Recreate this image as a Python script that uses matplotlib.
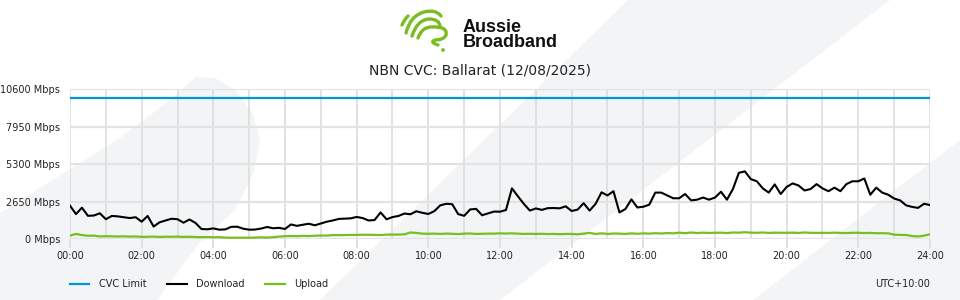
import numpy as np
import matplotlib.pyplot as plt
from matplotlib.patches import Polygon, Circle, PathPatch
from matplotlib.path import Path

# 10 minute samples over the day, in hours
times = np.arange(145) / 6.0
cvc_limit = 10000

download = [
    2375, 1780, 2233, 1660, 1680, 1837,   # 00
    1420, 1650, 1620, 1560, 1500, 1560,   # 01
    1244, 1650, 900, 1200, 1330, 1450,    # 02
    1420, 1173, 1400, 1160, 730, 707,     # 03
    770, 680, 700, 880, 890, 750,         # 04
    680, 690, 760, 870, 780, 810,         # 05
    728, 1050, 950, 1030, 1100, 990,      # 06
    1120, 1244, 1330, 1440, 1460, 1480,   # 07
    1580, 1500, 1330, 1360, 1900, 1413,   # 08
    1570, 1650, 1820, 1770, 1980, 1870,   # 09
    1790, 1990, 2400, 2510, 2480, 1780,   # 10
    1660, 2110, 2150, 1700, 1830, 1960,   # 11
    1950, 2070, 3600, 3040, 2500, 2030,   # 12
    2180, 2080, 2200, 2210, 2190, 2330,   # 13
    2000, 2100, 2550, 2030, 2500, 3320,   # 14
    3100, 3400, 1900, 2140, 2820, 2250,   # 15
    2300, 2450, 3300, 3300, 3100, 2900,   # 16
    2900, 3200, 2750, 2800, 2950, 2800,   # 17
    2950, 3360, 2800, 3550, 4700, 4800,   # 18
    4250, 4100, 3600, 3300, 3880, 3200,   # 19
    3700, 3950, 3800, 3450, 3550, 3900,   # 20
    3600, 3400, 3650, 3400, 3900, 4100,   # 21
    4100, 4300, 3150, 3650, 3300, 3150,   # 22
    2880, 2750, 2400, 2290, 2220, 2510,   # 23
    2420,
]

upload = [
    260, 380, 300, 250, 260, 200,   # 00
    220, 210, 200, 210, 190, 200,   # 01
    170, 180, 190, 170, 180, 180,   # 02
    190, 170, 180, 160, 150, 160,   # 03
    140, 150, 120, 110, 110, 110,   # 04
    110, 120, 140, 120, 150, 190,   # 05
    220, 230, 220, 240, 230, 250,   # 06
    270, 260, 300, 290, 300, 310,   # 07
    310, 320, 320, 310, 300, 330,   # 08
    330, 340, 350, 480, 450, 400,   # 09
    390, 400, 380, 400, 390, 370,   # 10
    400, 410, 380, 390, 400, 400,   # 11
    420, 410, 420, 400, 380, 390,   # 12
    380, 390, 370, 380, 360, 380,   # 13
    380, 350, 400, 450, 380, 420,   # 14
    380, 410, 400, 380, 420, 390,   # 15
    420, 400, 430, 410, 440, 420,   # 16
    470, 430, 480, 440, 470, 450,   # 17
    460, 470, 440, 480, 470, 500,   # 18
    470, 460, 480, 450, 470, 460,   # 19
    460, 470, 450, 480, 460, 450,   # 20
    460, 450, 470, 450, 440, 460,   # 21
    460, 440, 450, 430, 430, 420,   # 22
    330, 310, 300, 230, 200, 260,   # 23
    350,
]

y_ticks = [0, 2650, 5300, 7950, 10600]
y_labels = ["%d Mbps" % v for v in y_ticks]
x_ticks = np.arange(0, 25, 2)
x_labels = ["%02d:00" % h for h in x_ticks]

blue = "#0096d6"
green = "#78be20"
text_col = "#222222"
shade = "#f3f4f6"

fig = plt.figure(figsize=(9.6, 3), dpi=100)
fig.patch.set_facecolor("white")

# background decoration + logo, drawn in pixel coordinates
bg = fig.add_axes([0, 0, 1, 1], zorder=0)
bg.set_xlim(0, 960)
bg.set_ylim(300, 0)
bg.axis("off")
blob = [(0, 300), (0, 213), (120, 138), (170, 100), (196, 77), (215, 78),
        (235, 90), (252, 112), (260, 140), (254, 172), (235, 210),
        (200, 242), (157, 300)]
bg.add_patch(Polygon(blob, closed=True, fc=shade, ec="none"))
bg.add_patch(Polygon([(320, 300), (628, 0), (890, 0), (500, 300)],
                     closed=True, fc=shade, ec="none"))
bg.add_patch(Polygon([(753, 300), (960, 140), (960, 300)],
                     closed=True, fc=shade, ec="none"))

# logo swirl
C3 = Path.CURVE3
strokes = [
    ([(402, 25), (404, 20), (408, 16)], [Path.MOVETO, C3, C3]),
    ([(406, 33), (410, 16), (424, 12), (436, 9), (441, 16)],
     [Path.MOVETO, C3, C3, C3, C3]),
    ([(412, 36), (417, 20), (429, 19), (440, 19), (440, 27)],
     [Path.MOVETO, C3, C3, C3, C3]),
    ([(418, 38), (422, 27), (431, 27), (448, 26), (446, 35),
      (444, 40), (435, 40), (429, 42), (438, 45)],
     [Path.MOVETO, C3, C3, C3, C3, C3, C3, C3, C3]),
]
for verts, codes in strokes:
    bg.add_patch(PathPatch(Path(verts, codes), fc="none", ec=green,
                           lw=2.4, capstyle="round", joinstyle="round"))
bg.add_patch(Circle((443, 50), 1.9, fc=green, ec="none"))
bg.text(463, 47, "Aussie\nBroadband", family="Liberation Sans", weight="bold",
        fontsize=13, color="#111111", va="baseline", ha="left",
        linespacing=0.88)

# main chart
ax = fig.add_axes([70 / 960, (300 - 239.3) / 300, 860 / 960, 150 / 300], zorder=1)
ax.patch.set_alpha(0)
l1, = ax.plot([0, 24], [cvc_limit, cvc_limit], color=blue, lw=1.6)
l2, = ax.plot(times, download, color="black", lw=1.5)
l3, = ax.plot(times, upload, color=green, lw=1.6)

ax.set_xlim(0, 24)
ax.set_ylim(0, 10600)
ax.set_yticks(y_ticks, labels=y_labels)
ax.set_xticks(x_ticks, labels=x_labels)
ax.set_xticks(np.arange(0, 25, 1), minor=True)
ax.grid(which="both", axis="x", color="#dadada", lw=1.1)
ax.grid(which="major", axis="y", color="#e3e3e3", lw=1.6)
ax.set_axisbelow(True)
for s in ax.spines.values():
    s.set_visible(False)
ax.tick_params(axis="x", which="major", length=6.5, width=1.1, color="#dadada",
               labelsize=7, labelcolor=text_col, pad=2)
ax.tick_params(axis="x", which="minor", length=0)
ax.tick_params(axis="y", length=0, labelsize=7, labelcolor=text_col, pad=7)

fig.text(480 / 960, 1 - 70 / 300, "NBN CVC: Ballarat (12/08/2025)",
         ha="center", va="center", fontsize=10, color=text_col)

fig.legend([l1, l2, l3], ["CVC Limit", "Download", "Upload"],
           loc="center left", bbox_to_anchor=(70 / 960, 1 - 284 / 300),
           ncol=3, frameon=False, fontsize=7, handlelength=2,
           handletextpad=1, columnspacing=2.1, borderpad=0, borderaxespad=0,
           labelcolor=text_col)
fig.text(930 / 960, 1 - 284 / 300, "UTC+10:00", ha="right", va="center",
         fontsize=7, color=text_col)

fig.savefig("out.png", dpi=100)
